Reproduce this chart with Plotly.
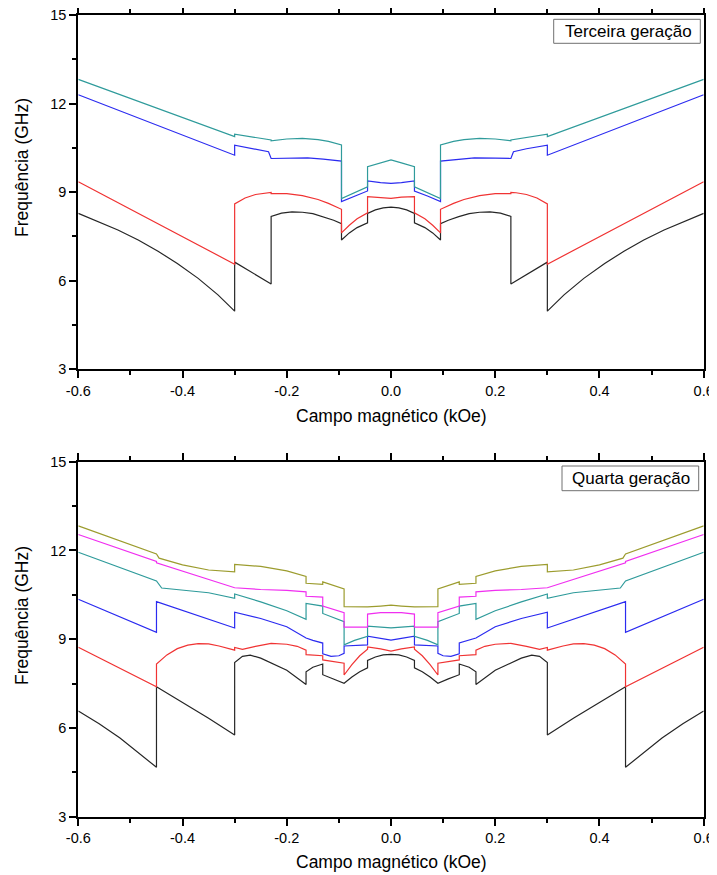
import plotly.graph_objects as go

# ---------------- Top panel: Terceira geração ----------------
top_black_x = [-0.6, -0.56, -0.524, -0.485, -0.447, -0.41, -0.37, -0.332, -0.3, -0.3, -0.23, -0.23, -0.21, -0.19, -0.17, -0.15, -0.13, -0.11, -0.095, -0.095, -0.08, -0.065, -0.045, -0.045, -0.03, -0.015, 0,
               0.015, 0.03, 0.045, 0.045, 0.065, 0.08, 0.095, 0.095, 0.11, 0.13, 0.15, 0.17, 0.19, 0.21, 0.23, 0.23, 0.3, 0.3, 0.332, 0.37, 0.41, 0.447, 0.485, 0.524, 0.56, 0.6]
top_black_y = [8.28, 7.99, 7.72, 7.38, 7.00, 6.58, 6.08, 5.52, 4.97, 6.63, 5.89, 8.18, 8.29, 8.33, 8.32, 8.27, 8.17, 8.05, 7.93, 7.38, 7.62, 7.80, 7.96, 8.28, 8.40, 8.47, 8.49,
               8.47, 8.40, 8.28, 7.96, 7.80, 7.62, 7.38, 7.93, 8.05, 8.17, 8.27, 8.32, 8.33, 8.29, 8.18, 5.89, 6.63, 4.97, 5.52, 6.08, 6.58, 7.00, 7.38, 7.72, 7.99, 8.28]

top_red_x = [-0.6, -0.3, -0.3, -0.28, -0.26, -0.24, -0.23, -0.23, -0.2, -0.17, -0.14, -0.12, -0.095, -0.095, -0.08, -0.065, -0.045, -0.045, -0.02, 0,
             0.02, 0.045, 0.045, 0.065, 0.08, 0.095, 0.095, 0.12, 0.14, 0.17, 0.2, 0.23, 0.23, 0.24, 0.26, 0.28, 0.3, 0.3, 0.6]
top_red_y = [9.35, 6.56, 8.60, 8.80, 8.92, 8.98, 8.99, 8.95, 8.95, 8.88, 8.75, 8.62, 8.42, 7.62, 7.88, 8.10, 8.30, 8.85, 8.83, 8.79,
             8.83, 8.85, 8.30, 8.10, 7.88, 7.62, 8.42, 8.62, 8.75, 8.88, 8.95, 8.95, 8.99, 8.98, 8.92, 8.80, 8.60, 6.56, 9.35]

top_blue_x = [-0.6, -0.3, -0.3, -0.26, -0.235, -0.23, -0.2, -0.16, -0.13, -0.095, -0.095, -0.07, -0.045, -0.045, -0.02, 0,
              0.02, 0.045, 0.045, 0.07, 0.095, 0.095, 0.13, 0.16, 0.2, 0.23, 0.235, 0.26, 0.3, 0.3, 0.6]
top_blue_y = [12.30, 10.25, 10.59, 10.47, 10.37, 10.14, 10.15, 10.16, 10.12, 10.05, 8.68, 8.87, 9.04, 9.38, 9.32, 9.30,
              9.32, 9.38, 9.04, 8.87, 8.68, 10.05, 10.12, 10.16, 10.15, 10.14, 10.37, 10.47, 10.59, 10.25, 12.30]

top_teal_x = [-0.6, -0.3, -0.3, -0.23, -0.23, -0.2, -0.17, -0.14, -0.12, -0.095, -0.095, -0.07, -0.045, -0.045, -0.02, 0,
              0.02, 0.045, 0.045, 0.07, 0.095, 0.095, 0.12, 0.14, 0.17, 0.2, 0.23, 0.23, 0.3, 0.3, 0.6]
top_teal_y = [12.82, 10.88, 10.96, 10.77, 10.74, 10.80, 10.82, 10.78, 10.72, 10.60, 8.78, 8.98, 9.18, 9.86, 9.99, 10.09,
              9.99, 9.86, 9.18, 8.98, 8.78, 10.60, 10.72, 10.78, 10.82, 10.80, 10.74, 10.77, 10.96, 10.88, 12.82]

# ---------------- Bottom panel: Quarta geração ----------------
bot_black_x = [-0.6, -0.56, -0.52, -0.485, -0.45, -0.45, -0.4, -0.35, -0.3, -0.3, -0.285, -0.27, -0.25, -0.2, -0.163, -0.163, -0.15, -0.14, -0.131, -0.131, -0.11, -0.09, -0.075, -0.06, -0.045, -0.045, -0.03, -0.015, 0,
               0.015, 0.03, 0.045, 0.045, 0.06, 0.075, 0.09, 0.11, 0.131, 0.131, 0.14, 0.15, 0.163, 0.163, 0.2, 0.25, 0.27, 0.285, 0.3, 0.3, 0.35, 0.4, 0.45, 0.45, 0.485, 0.52, 0.56, 0.6]
bot_black_y = [6.57, 6.14, 5.66, 5.16, 4.67, 7.39, 6.87, 6.33, 5.76, 8.21, 8.42, 8.46, 8.36, 7.95, 7.47, 7.90, 8.05, 8.12, 8.16, 7.80, 7.66, 7.51, 7.72, 7.90, 8.03, 8.28, 8.40, 8.47, 8.49,
               8.47, 8.40, 8.28, 8.03, 7.90, 7.72, 7.51, 7.66, 7.80, 8.16, 8.12, 8.05, 7.90, 7.47, 7.95, 8.36, 8.46, 8.42, 8.21, 5.76, 6.33, 6.87, 7.39, 4.67, 5.16, 5.66, 6.14, 6.57]

bot_red_x = [-0.6, -0.45, -0.45, -0.43, -0.41, -0.39, -0.37, -0.35, -0.33, -0.3, -0.3, -0.285, -0.26, -0.23, -0.2, -0.18, -0.163, -0.163, -0.131, -0.131, -0.09, -0.09, -0.075, -0.06, -0.045, -0.045, -0.02, 0,
             0.02, 0.045, 0.045, 0.06, 0.075, 0.09, 0.09, 0.131, 0.131, 0.163, 0.163, 0.18, 0.2, 0.23, 0.26, 0.285, 0.3, 0.3, 0.33, 0.35, 0.37, 0.39, 0.41, 0.43, 0.45, 0.45, 0.6]
bot_red_y = [8.73, 7.39, 8.16, 8.47, 8.68, 8.80, 8.85, 8.84, 8.77, 8.63, 8.72, 8.66, 8.76, 8.86, 8.83, 8.76, 8.63, 8.48, 8.44, 8.30, 8.19, 7.79, 8.14, 8.44, 8.66, 8.74, 8.67, 8.60,
             8.67, 8.74, 8.66, 8.44, 8.14, 7.79, 8.19, 8.30, 8.44, 8.48, 8.63, 8.76, 8.83, 8.86, 8.76, 8.66, 8.72, 8.63, 8.77, 8.84, 8.85, 8.80, 8.68, 8.47, 8.16, 7.39, 8.73]

bot_blue_x = [-0.6, -0.45, -0.45, -0.3, -0.3, -0.25, -0.2, -0.163, -0.15, -0.131, -0.131, -0.115, -0.1, -0.09, -0.09, -0.045, -0.045, -0.02, 0,
              0.02, 0.045, 0.045, 0.09, 0.09, 0.1, 0.115, 0.131, 0.131, 0.15, 0.163, 0.2, 0.25, 0.3, 0.3, 0.45, 0.45, 0.6]
bot_blue_y = [10.35, 9.23, 10.27, 9.38, 9.91, 9.70, 9.42, 9.04, 8.96, 8.87, 8.51, 8.42, 8.44, 8.52, 8.77, 8.81, 9.10, 9.03, 8.97,
              9.03, 9.10, 8.81, 8.77, 8.52, 8.44, 8.42, 8.51, 8.87, 8.96, 9.04, 9.42, 9.70, 9.91, 9.38, 10.27, 9.23, 10.35]

bot_teal_x = [-0.6, -0.45, -0.44, -0.4, -0.35, -0.3, -0.3, -0.25, -0.2, -0.163, -0.163, -0.131, -0.131, -0.09, -0.09, -0.07, -0.045, -0.045, -0.02, 0,
              0.02, 0.045, 0.045, 0.07, 0.09, 0.09, 0.131, 0.131, 0.163, 0.163, 0.2, 0.25, 0.3, 0.3, 0.35, 0.4, 0.44, 0.45, 0.6]
bot_teal_y = [11.94, 10.97, 10.73, 10.67, 10.57, 10.38, 10.53, 10.26, 9.96, 9.67, 10.21, 10.12, 9.87, 9.59, 8.81, 8.96, 9.10, 9.44, 9.41, 9.38,
              9.41, 9.44, 9.10, 8.96, 8.81, 9.59, 9.87, 10.12, 10.21, 9.67, 9.96, 10.26, 10.53, 10.38, 10.57, 10.67, 10.73, 10.97, 11.94]

bot_magenta_x = [-0.6, -0.45, -0.45, -0.3, -0.25, -0.2, -0.163, -0.163, -0.131, -0.131, -0.09, -0.09, -0.045, -0.045, -0.02, 0,
                 0.02, 0.045, 0.045, 0.09, 0.09, 0.131, 0.131, 0.163, 0.163, 0.2, 0.25, 0.3, 0.45, 0.45, 0.6]
bot_magenta_y = [12.54, 11.63, 11.58, 10.74, 10.68, 10.65, 10.60, 10.45, 10.42, 10.12, 9.90, 9.41, 9.41, 9.85, 9.90, 9.91,
                 9.90, 9.85, 9.41, 9.41, 9.90, 10.12, 10.42, 10.45, 10.60, 10.65, 10.68, 10.74, 11.58, 11.63, 12.54]

bot_olive_x = [-0.6, -0.45, -0.445, -0.4, -0.35, -0.3, -0.3, -0.25, -0.2, -0.163, -0.163, -0.131, -0.131, -0.09, -0.09, -0.045, -0.02, 0,
               0.02, 0.045, 0.09, 0.09, 0.131, 0.131, 0.163, 0.163, 0.2, 0.25, 0.3, 0.3, 0.35, 0.4, 0.445, 0.45, 0.6]
bot_olive_y = [12.83, 11.88, 11.74, 11.51, 11.34, 11.28, 11.53, 11.46, 11.31, 11.12, 10.89, 10.85, 10.94, 10.70, 10.10, 10.09, 10.12, 10.15,
               10.12, 10.09, 10.10, 10.70, 10.94, 10.85, 10.89, 11.12, 11.31, 11.46, 11.53, 11.28, 11.34, 11.51, 11.74, 11.88, 12.83]

x_tick_vals = [-0.6, -0.4, -0.2, 0.0, 0.2, 0.4, 0.6]
x_tick_text = ["-0.6", "-0.4", "-0.2", "0.0", "0.2", "0.4", "0.6"]
x_minor_vals = [-0.5, -0.3, -0.1, 0.1, 0.3, 0.5]
y_tick_vals = [3, 6, 9, 12, 15]
y_tick_text = ["3", "6", "9", "12", "15"]
y_minor_vals = [4.5, 7.5, 10.5, 13.5]

x_title = "Campo magnético (kOe)"
y_title = "Frequência (GHz)"
panel_labels = ["Terceira geração", "Quarta geração"]

C_BLACK = "#262626"
C_RED = "#f03333"
C_BLUE = "#2b2bf0"
C_TEAL = "#2f9b9b"
C_MAG = "#f02ff0"
C_OLIVE = "#9c9c2e"

FONT = "Arial, Liberation Sans, sans-serif"
OFF = 8  # default page body margin
W, H = 717 - OFF, 875 - OFF

fig = go.Figure()

def add(x, y, color, xa, ya):
    fig.add_trace(go.Scatter(x=x, y=y, mode="lines", line=dict(color=color, width=1.2),
                             xaxis=xa, yaxis=ya, showlegend=False, hoverinfo="skip"))

for x, y, c in [(top_black_x, top_black_y, C_BLACK), (top_red_x, top_red_y, C_RED),
                (top_blue_x, top_blue_y, C_BLUE), (top_teal_x, top_teal_y, C_TEAL)]:
    add(x, y, c, "x", "y")

for x, y, c in [(bot_black_x, bot_black_y, C_BLACK), (bot_red_x, bot_red_y, C_RED),
                (bot_blue_x, bot_blue_y, C_BLUE), (bot_teal_x, bot_teal_y, C_TEAL),
                (bot_magenta_x, bot_magenta_y, C_MAG), (bot_olive_x, bot_olive_y, C_OLIVE)]:
    add(x, y, c, "x2", "y2")

def px(v):
    return (v - OFF) / W

def py(v):
    return 1 - (v - OFF) / H

xdom = [px(78.3), px(703.7)]
top_dom = [py(369.3), py(15)]
bot_dom = [py(816.7), py(461.7)]

xaxis_common = dict(range=[-0.6, 0.6], tickmode="array", tickvals=x_tick_vals, ticktext=x_tick_text,
                    showline=True, linewidth=2, linecolor="black", mirror="ticks",
                    ticks="outside", ticklen=7, tickwidth=1.5, tickcolor="black",
                    minor=dict(tickmode="array", tickvals=x_minor_vals, ticks="outside", ticklen=4,
                               tickwidth=1.5, tickcolor="black", showgrid=False),
                    showgrid=False, zeroline=False, domain=xdom, automargin=False,
                    ticklabeloverflow="allow",
                    tickfont=dict(family=FONT, size=14.5, color="black"))
yaxis_common = dict(range=[3, 15], tickmode="array", tickvals=y_tick_vals, ticktext=y_tick_text,
                    showline=True, linewidth=2, linecolor="black", mirror=True,
                    ticks="outside", ticklen=7, tickwidth=1.5, tickcolor="black",
                    minor=dict(tickmode="array", tickvals=y_minor_vals, ticks="outside", ticklen=4,
                               tickwidth=1.5, tickcolor="black", showgrid=False),
                    showgrid=False, zeroline=False, automargin=False,
                    ticklabeloverflow="allow",
                    tickfont=dict(family=FONT, size=14.5, color="black"))

fig.update_layout(
    width=W, height=H, margin=dict(l=0, r=0, t=0, b=0, autoexpand=False),
    paper_bgcolor="white", plot_bgcolor="white",
    xaxis=dict(xaxis_common, anchor="y"),
    yaxis=dict(yaxis_common, domain=top_dom, anchor="x"),
    xaxis2=dict(xaxis_common, anchor="y2"),
    yaxis2=dict(yaxis_common, domain=bot_dom, anchor="x2"),
)

annotations = []
shapes = []
for ty, ly, lab, box in [(415.5, 168, panel_labels[0], (553.7, 19.3, 700.3, 43.3)),
                         (862.0, 616, panel_labels[1], (562.0, 466.0, 698.7, 490.7))]:
    annotations.append(dict(text=x_title, x=px(391), y=py(ty), xref="paper", yref="paper",
                            showarrow=False, xanchor="center", yanchor="middle",
                            font=dict(family=FONT, size=17.5, color="black")))
    annotations.append(dict(text=y_title, x=px(22), y=py(ly), xref="paper", yref="paper",
                            showarrow=False, xanchor="center", yanchor="middle", textangle=-90,
                            font=dict(family=FONT, size=17.5, color="black")))
    x0, y0, x1, y1 = box
    shapes.append(dict(type="rect", xref="paper", yref="paper", x0=px(x0), x1=px(x1),
                       y0=py(y1), y1=py(y0), line=dict(color="#707070", width=1),
                       fillcolor="white", layer="above"))
    annotations.append(dict(text=lab, x=px((x0 + x1) / 2 + 1), y=py((y0 + y1) / 2), xref="paper", yref="paper",
                            showarrow=False, xanchor="center", yanchor="middle",
                            font=dict(family=FONT, size=17, color="black")))

fig.update_layout(annotations=annotations, shapes=shapes)
fig.write_html("out.html")
